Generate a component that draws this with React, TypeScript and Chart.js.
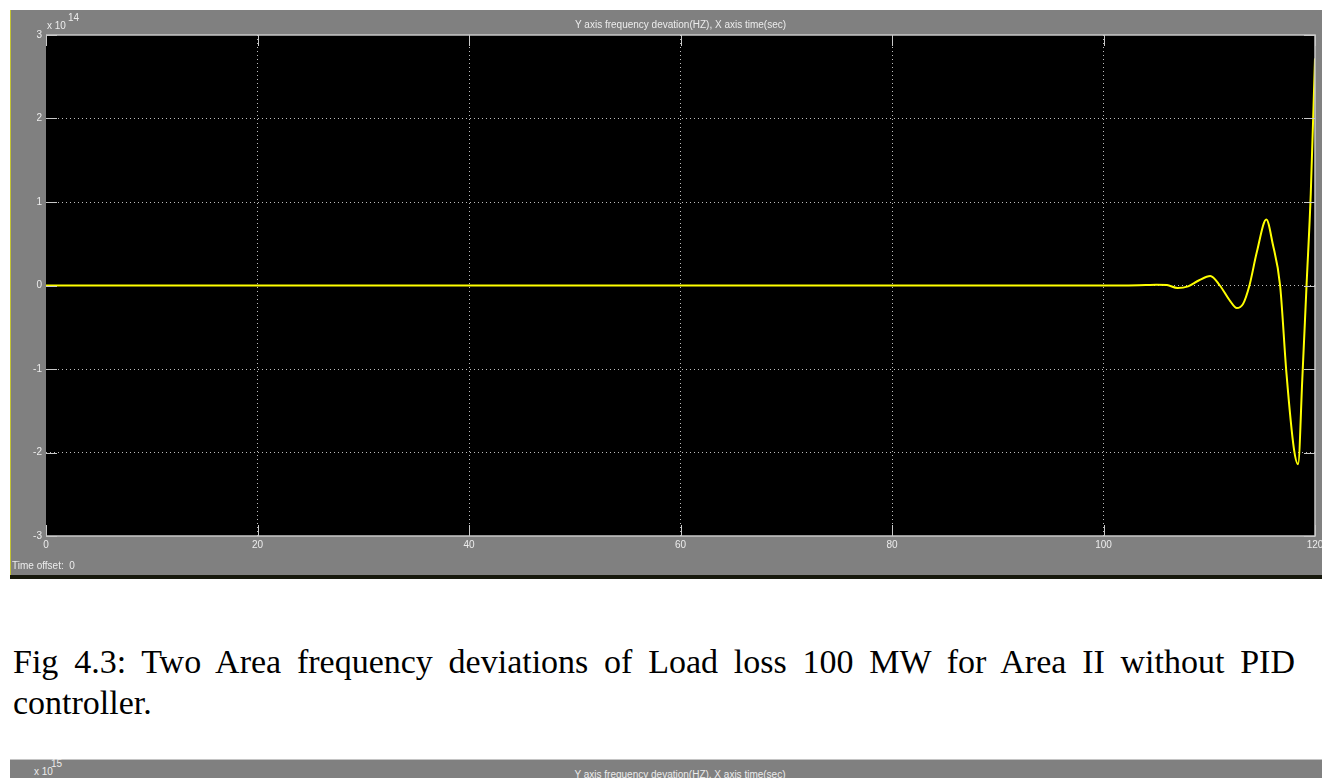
import React, { useEffect, useRef } from 'react';
import { Chart, registerables } from 'chart.js';

Chart.register(...registerables);

// Time axis (s)
const timeSec = [0, 100, 102, 104, 105, 106, 107, 108, 109, 110.1, 111, 112, 112.6, 113.2, 113.8, 114.5, 115.4, 116, 116.7, 117.3, 118, 118.4, 118.8, 119.2, 119.6, 120];
// Frequency deviation, in units of 1e14 Hz
const freqDevE14 = [0, 0, 0, 0.005, 0.01, 0.005, -0.03, -0.01, 0.06, 0.114, 0, -0.19, -0.27, -0.22, 0, 0.4, 0.79, 0.5, 0, -1.05, -1.95, -2.14, -1.12, 0, 1.1, 2.72];

const xTicks = [0, 20, 40, 60, 80, 100, 120];
const yTicks = [-3, -2, -1, 0, 1, 2, 3];
const scopeTitle = 'Y axis frequency devation(HZ), X axis time(sec)';
const yExponent = '14';
const nextExponent = '15';
const captionLine1 = 'Fig 4.3: Two Area frequency deviations of Load loss 100 MW for Area II without PID';
const captionLine2 = 'controller.';

const UI_FONT = '"Liberation Sans", Arial, sans-serif';
const SERIF = '"Liberation Serif", "Times New Roman", serif';

const scopePlugin = {
  id: 'scopeFrame',
  beforeDraw(chart: any) {
    const { ctx, chartArea: a, width, height } = chart;
    ctx.save();
    ctx.fillStyle = '#ffffff';
    ctx.fillRect(0, 0, width, height);
    ctx.fillStyle = '#808080';
    ctx.fillRect(11, 10, width - 11, 565);
    ctx.fillStyle = '#c2c234';
    ctx.fillRect(10, 10, 1, 566);
    ctx.fillStyle = '#17190d';
    ctx.fillRect(10, 575, width - 10, 4);
    ctx.fillStyle = '#000000';
    ctx.fillRect(a.left, a.top, a.right - a.left, a.bottom - a.top);
    ctx.restore();
  },
  afterDraw(chart: any) {
    const { ctx, chartArea: a, scales } = chart;
    ctx.save();
    ctx.strokeStyle = '#c8c8c8';
    ctx.lineWidth = 1.5;
    ctx.setLineDash([]);
    ctx.beginPath();
    ctx.moveTo(a.left, a.top);
    ctx.lineTo(a.right, a.top);
    ctx.lineTo(a.right, a.bottom);
    ctx.lineTo(a.left, a.bottom);
    ctx.stroke();
    // inner tick marks
    ctx.lineWidth = 1;
    const tl = 11;
    ctx.beginPath();
    xTicks.forEach((v) => {
      const px = Math.round(scales.x.getPixelForValue(v)) + 0.5;
      ctx.moveTo(px, a.top);
      ctx.lineTo(px, a.top + tl);
      ctx.moveTo(px, a.bottom);
      ctx.lineTo(px, a.bottom - tl);
    });
    yTicks.forEach((v) => {
      const py = Math.round(scales.y.getPixelForValue(v)) + 0.5;
      ctx.moveTo(a.right, py);
      ctx.lineTo(a.right - tl, py);
      ctx.moveTo(a.left, py);
      ctx.lineTo(a.left + tl, py);
    });
    ctx.stroke();
    // exponent label
    ctx.fillStyle = '#ececec';
    ctx.textBaseline = 'middle';
    ctx.textAlign = 'left';
    ctx.font = `10px ${UI_FONT}`;
    ctx.fillText('x 10', a.left + 1, 26);
    ctx.fillText(yExponent, a.left + 22, 18);
    ctx.fillText('Time offset:  0', 12, 566);
    ctx.restore();
  },
};

function ScopeChart() {
  const ref = useRef<HTMLCanvasElement | null>(null);
  useEffect(() => {
    if (!ref.current) return;
    const chart = new Chart(ref.current, {
      type: 'line',
      data: {
        datasets: [
          {
            data: timeSec.map((t, i) => ({ x: t, y: freqDevE14[i] })),
            borderColor: '#ffff00',
            borderWidth: 2,
            pointRadius: 0,
            cubicInterpolationMode: 'monotone',
            fill: false,
          },
        ],
      },
      options: {
        responsive: false,
        animation: false,
        devicePixelRatio: 1,
        layout: { padding: { left: 0, right: 7, top: 0, bottom: 0 } },
        plugins: {
          legend: { display: false },
          tooltip: { enabled: false },
          title: {
            display: true,
            text: scopeTitle,
            fullSize: false,
            color: '#ececec',
            font: { family: UI_FONT, size: 10, lineHeight: 1, weight: 'normal' },
            padding: { top: 20, bottom: 5 },
          },
        },
        scales: {
          x: {
            type: 'linear',
            min: 0,
            max: 120,
            afterBuildTicks: (s: any) => {
              s.ticks = xTicks.map((v) => ({ value: v }));
            },
            afterFit: (s: any) => {
              s.height = 44;
              s.paddingLeft = 0;
              s.paddingRight = 0;
            },
            ticks: {
              color: '#ececec',
              font: { family: UI_FONT, size: 10 },
              padding: 3,
              maxRotation: 0,
              autoSkip: false,
            },
            grid: {
              drawTicks: false,
              lineWidth: 1,
              color: (c: any) => (c.tick && (c.tick.value === 0 || c.tick.value === 120) ? 'rgba(0,0,0,0)' : '#bdbdbd'),
            },
            border: { display: false, dash: [1, 3] },
          },
          y: {
            type: 'linear',
            min: -3,
            max: 3,
            afterBuildTicks: (s: any) => {
              s.ticks = yTicks.map((v) => ({ value: v }));
            },
            afterFit: (s: any) => {
              s.width = 46;
              s.paddingTop = 0;
              s.paddingBottom = 0;
            },
            ticks: {
              color: '#ececec',
              font: { family: UI_FONT, size: 10 },
              padding: 4,
              autoSkip: false,
            },
            grid: {
              drawTicks: false,
              lineWidth: 1,
              color: (c: any) => (c.tick && (c.tick.value === 3 || c.tick.value === -3) ? 'rgba(0,0,0,0)' : '#bdbdbd'),
            },
            border: { display: false, dash: [1, 3] },
          },
        },
      },
      plugins: [scopePlugin],
    } as any);
    return () => chart.destroy();
  }, []);
  return <canvas ref={ref} width={1322} height={580} style={{ position: 'absolute', left: 0, top: 0 }} />;
}

export default function App() {
  const captionStyle: React.CSSProperties = {
    position: 'absolute',
    left: 13,
    width: 1282,
    fontFamily: SERIF,
    fontSize: 34,
    lineHeight: '41px',
    color: '#000',
    whiteSpace: 'nowrap',
  };
  return (
    <div style={{ position: 'fixed', left: 0, top: 0, width: 1322, height: 778, background: '#ffffff', overflow: 'hidden' }}>
      <ScopeChart />
      <div style={{ ...captionStyle, top: 641, textAlign: 'justify', textAlignLast: 'justify', whiteSpace: 'normal' }}>
        {captionLine1}
      </div>
      <div style={{ ...captionStyle, top: 682 }}>{captionLine2}</div>
      <div
        style={{
          position: 'absolute',
          left: 10,
          top: 759,
          width: 1312,
          height: 19,
          background: '#808080',
          borderTop: '1px solid #c4c4c4',
          boxSizing: 'border-box',
          fontFamily: UI_FONT,
          color: '#ececec',
          fontSize: 10,
        }}
      >
        <span style={{ position: 'absolute', left: 24, top: 7, lineHeight: '10px' }}>x 10</span>
        <span style={{ position: 'absolute', left: 41, top: -1, lineHeight: '10px' }}>{nextExponent}</span>
        <span style={{ position: 'absolute', left: 670, top: 10, lineHeight: '10px', transform: 'translateX(-50%)', whiteSpace: 'nowrap' }}>
          {scopeTitle}
        </span>
      </div>
    </div>
  );
}
